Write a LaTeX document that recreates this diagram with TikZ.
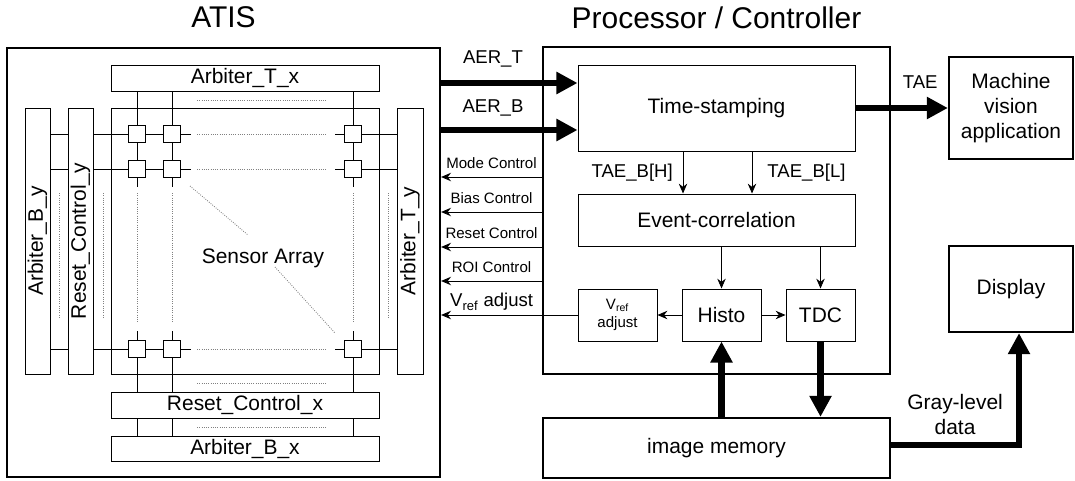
\documentclass[tikz,border=0pt]{standalone}
\usepackage{fontspec}
\setmainfont{Liberation Sans}
\usetikzlibrary{arrows.meta,positioning,calc}
\newlength\pxu
\setlength\pxu{0.025cm}

\begin{document}
\begin{tikzpicture}[x=0.025cm, y=-0.025cm,
  wire/.style={line width=0.7pt},
  filler/.style={line width=0.6pt, densely dotted, gray},
  blk/.style={draw, line width=0.7pt, fill=white, inner sep=0pt, align=center,
    font=\fontsize{14.9}{17.8}\selectfont},
  heavy/.style={blk, line width=1.6pt},
  sz/.style 2 args={minimum width=#1\pxu, minimum height=#2\pxu},
  cell/.style={draw, fill=white, line width=0.7pt, minimum size=17\pxu, inner sep=0pt},
  bus/.style={line width=4.3pt, -{Triangle[length=15pt,width=15pt]}},
  sig/.style={line width=0.6pt, -{Stealth[length=7pt,width=6pt]}},
  txt/.style={inner sep=3pt, align=center, font=\fontsize{14.9}{17.8}\selectfont},
  lbl/.style={inner sep=3pt, font=\fontsize{13.2}{15}\selectfont},
  ctl/.style={inner sep=3pt, font=\fontsize{10.7}{12}\selectfont},
  headline/.style={font=\fontsize{21.3}{25}\selectfont}]

\useasboundingbox (0,0) rectangle (1075,480);

% ATIS chip
\node[heavy, sz={433}{429}] (atis) at (223.5,262.5) {};
\node[headline] (atistitle) at (223.5,17) {ATIS};
\node[blk, sz={268}{26}] (atx) at (245,78) {Arbiter\_T\_x};
\node[blk, sz={268}{266}] (sens) at (245,241) {};
\node[blk, sz={268}{26}] (rcx) at (245,405) {Reset\_Control\_x};
\node[blk, sz={268}{25}] (abx) at (245,448.5) {Arbiter\_B\_x};
\node[blk, rotate=90, sz={266}{25}] (aby) at (37.5,241) {Arbiter\_B\_y};
\node[blk, rotate=90, sz={266}{25}] (rcy) at (80.5,241) {Reset\_Control\_y};
\node[blk, rotate=90, sz={266}{26}] (aty) at (410,241) {Arbiter\_T\_y};

% pixel cells
\foreach \row/\y in {1/134, 2/169, 3/349}
  \foreach \col/\x in {1/137, 2/172, 3/353}
    \node[cell] (c\row\col) at (\x,\y) {};

% row wires
\foreach \row in {1,2,3} {
  \draw[wire] (aby.south |- c\row1) -- (rcy.north |- c\row1);
  \draw[wire] (rcy.south |- c\row1) -- (c\row1.west);
  \draw[wire] (c\row1.east) -- (c\row2.west);
  \draw[wire] (c\row2.east) -- ++(10,0);
  \draw[wire] (c\row3.west) -- ++(-9,0);
  \draw[wire] (c\row3.east) -- (aty.north |- c\row3);
}
% column wires
\foreach \col in {1,2,3} {
  \draw[wire] (atx.south -| c1\col) -- (c1\col.north);
  \draw[wire] (c1\col.south) -- (c2\col.north);
  \draw[wire] (c2\col.south) -- ++(0,9);
  \draw[wire] (c3\col.north) -- ++(0,-9);
  \draw[wire] (c3\col.south) -- (rcx.north -| c3\col);
  \draw[wire] (rcx.south -| c3\col) -- (abx.north -| c3\col);
}

% dotted fillers
\foreach \y in {100,134,169,349,383,427}
  \draw[filler] (197,\y) -- (327,\y);
\foreach \x in {59,103,388}
  \draw[filler] (\x,193) -- (\x,318);
\foreach \x in {137,172,353}
  \draw[filler] (\x,193) -- (\x,323);
\draw[filler] (190,186) -- (248,235);
\draw[filler] (275,267) -- (335,333);
\node[txt] (senslbl) at (263,258) {Sensor Array};

% processor
\node[heavy, sz={347}{327}] (proc) at (716.5,210.5) {};
\node[headline] (proctitle) at (716.5,18) {Processor / Controller};
\node[blk, sz={277}{86}] (ts) at (716.5,108) {Time-stamping};
\node[blk, sz={277}{52}] (ec) at (716.5,220) {Event-correlation};
\node[blk, sz={79}{52}, font=\fontsize{10.7}{12.8}\selectfont] (vref) at (617.5,315) {V\textsubscript{ref}\\adjust};
\node[blk, sz={79}{52}] (hist) at (721.5,315) {Histo};
\node[blk, sz={69}{52}] (tdc) at (820.5,315) {TDC};
\node[heavy, sz={347}{60}] (mem) at (716.5,448) {image memory};

% outside blocks
\node[heavy, sz={124}{102}] (mva) at (1011,108) {Machine\\vision\\application};
\node[heavy, sz={124}{86}] (disp) at (1011,289) {Display};

% address-event buses
\coordinate (aert) at (0,83);
\coordinate (aerb) at (0,130);
\draw[bus] (atis.east |- aert) -- node[lbl, pos=0.38, above=6pt] {AER\_T} (ts.west |- aert);
\draw[bus] (atis.east |- aerb) -- node[lbl, pos=0.38, above=4.8pt] {AER\_B} (ts.west |- aerb);
\draw[bus] (ts.east) -- node[lbl, pos=0.7, above=8.4pt] {TAE} (mva.west);

% control lines back to the chip
\foreach \y/\what in {177/Mode Control, 212/Bias Control, 247/Reset Control, 281/ROI Control} {
  \coordinate (lvl) at (0,\y);
  \draw[sig] (proc.west |- lvl) -- node[ctl, above=2.7pt] {\what} (atis.east |- lvl);
}
\draw[sig] (vref.west) -- node[lbl, pos=0.63, above=0pt] {V\textsubscript{ref} adjust} (atis.east |- vref.west);

% inside the processor
\coordinate (tbh) at (683,0);
\coordinate (tbl) at (752,0);
\draw[sig] (ts.south -| tbh) -- node[lbl, left=4pt] {TAE\_B[H]} (ec.north -| tbh);
\draw[sig] (ts.south -| tbl) -- node[lbl, right=7.7pt] {TAE\_B[L]} (ec.north -| tbl);
\draw[sig] (ec.south -| hist) -- (hist.north);
\draw[sig] (ec.south -| tdc) -- (tdc.north);
\draw[sig] (hist.west) -- (vref.east);
\draw[sig] (hist.east) -- (tdc.west);
\draw[bus] (mem.north -| hist) -- (hist.south);
\draw[bus] (tdc.south) -- (mem.north -| tdc);

% gray-level output
\coordinate (gbend) at (1019,445);
\draw[bus] (mem.east |- gbend) -- node[txt, above=2pt] {Gray-level\\data} (gbend) -- (gbend |- disp.south);
\end{tikzpicture}
\end{document}
